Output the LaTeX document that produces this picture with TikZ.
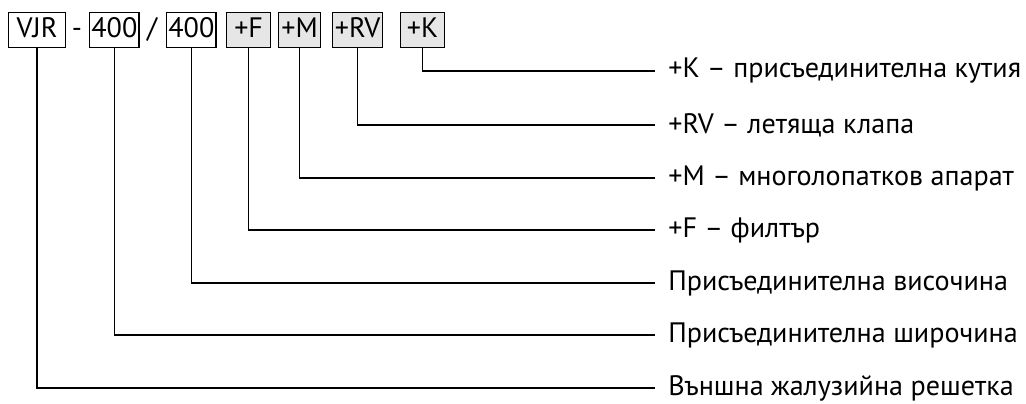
\documentclass[tikz,border=0pt]{standalone}
\usepackage{fontspec}
\setmainfont{PT Sans}
\usepackage{xcolor}
\usetikzlibrary{positioning,calc}

\definecolor{codegray}{HTML}{E6E6E6}

\begin{document}
\begin{tikzpicture}[x=0.02cm, y=-0.02cm,
    code/.style={draw, line width=0.7pt, minimum height=0.7cm, inner sep=1pt, text height=11pt, text depth=3pt, font=\fontsize{16}{18}\selectfont, anchor=north west},
    opt/.style={code, fill=codegray},
    sep/.style={inner sep=1pt, text height=11pt, text depth=3pt, font=\fontsize{16}{18}\selectfont},
    desc/.style={anchor=west, inner xsep=0.26cm, font=\fontsize{16}{18}\selectfont},
    link/.style={line width=0.7pt},
]
\useasboundingbox (0,0) rectangle (1026,403);

% Code boxes
\node[code, minimum width=1.14cm] (vjr) at (8,12) {VJR};
\node[sep] (dash) at (77,30) {-};
\node[code, minimum width=0.9cm] (wid) at (89,12) {400};
\node[sep] (slash) at (152,30) {/};
\node[code, minimum width=0.94cm] (hgt) at (166,12) {400};
\node[opt, minimum width=0.88cm] (optf) at (226,12) {+F};
\node[opt, minimum width=0.84cm] (optm) at (278,12) {+M};
\node[opt, minimum width=1.0cm] (optrv) at (332,12) {+RV};
\node[opt, minimum width=0.88cm] (optk) at (400,12) {+K};

% Descriptions
\node[desc] (dk) at (655,71) {+K – присъединителна кутия};
\node[desc] (drv) at (655,125) {+RV – летяща клапа};
\node[desc] (dm) at (655,178) {+M – многолопатков апарат};
\node[desc] (df) at (655,230) {+F – филтър};
\node[desc] (dh) at (655,283) {Присъединителна височина};
\node[desc] (dw) at (655,335) {Присъединителна широчина};
\node[desc] (dv) at (655,388) {Външна жалузийна решетка};

% Leaders
\draw[link] (optk.south) |- (dk.west);
\draw[link] (optrv.south) |- (drv.west);
\draw[link] (optm.south) |- (dm.west);
\draw[link] (optf.south) |- (df.west);
\draw[link] (hgt.south) |- (dh.west);
\draw[link] (wid.south) |- (dw.west);
\draw[link] (vjr.south) |- (dv.west);
\end{tikzpicture}
\end{document}
